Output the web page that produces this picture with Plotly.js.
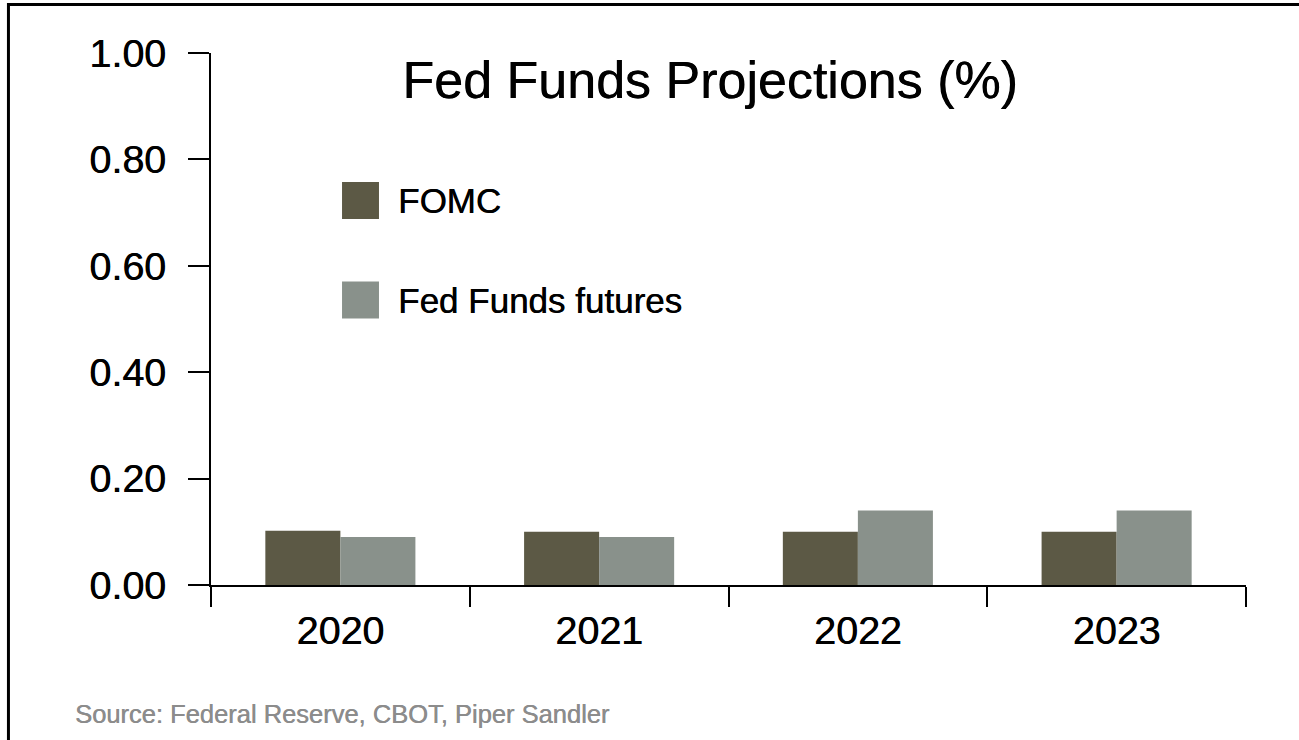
<!DOCTYPE html>
<html>
<head>
<meta charset="utf-8">
<script src="https://cdn.plot.ly/plotly-3.0.1.min.js"></script>
<style>
  html, body { margin: 0; padding: 0; background: #fff; }
  #chart { width: 1299px; height: 740px; }
</style>
</head>
<body>
<div id="chart"></div>
<script>
// ---- data ----
const years = ["2020", "2021", "2022", "2023"];
const fomcValues = [0.102, 0.10, 0.10, 0.10];
const futuresValues = [0.09, 0.09, 0.14, 0.14];
const seriesNames = ["FOMC", "Fed Funds futures"];
const yTickValues = [0, 0.2, 0.4, 0.6, 0.8, 1.0];
const yTickLabels = ["0.00", "0.20", "0.40", "0.60", "0.80", "1.00"];
const chartTitle = "Fed Funds Projections (%)";
const sourceText = "Source: Federal Reserve, CBOT, Piper Sandler";

// ---- style ----
const colors = ["#5c5945", "#89918b"];
const FONT = '"Liberation Sans", Arial, Helvetica, sans-serif';
const HEAVY = "0.5px 0 0 #000";

const traces = [
  { type: "bar", x: years, y: fomcValues, name: seriesNames[0],
    marker: { color: colors[0], line: { width: 0 } }, hoverinfo: "x+y+name" },
  { type: "bar", x: years, y: futuresValues, name: seriesNames[1],
    marker: { color: colors[1], line: { width: 0 } }, hoverinfo: "x+y+name" }
];

// legend built as swatches + labels (paper coordinates)
const legendRows = [0.7228, 0.5357];
const shapes = [];
const annotations = [];
seriesNames.forEach((nm, i) => {
  const yc = legendRows[i];
  const half = 0.0348;
  shapes.push({ type: "rect", xref: "paper", yref: "paper",
    x0: 0.1266, x1: 0.1623, y0: yc - half, y1: yc + half,
    fillcolor: colors[i], line: { width: 0 } });
  annotations.push({ xref: "paper", yref: "paper", x: 0.1787, y: yc,
    xanchor: "left", yanchor: "middle", showarrow: false, text: nm,
    font: { family: FONT, size: 35, color: "#000", shadow: HEAVY } });
});

// frame (top and left rules)
shapes.push({ type: "line", xref: "paper", yref: "paper",
  x0: -0.1957, x1: 1.06, y0: 1.0912, y1: 1.0912, line: { color: "#000", width: 3 } });
shapes.push({ type: "line", xref: "paper", yref: "paper",
  x0: -0.1957, x1: -0.1957, y0: 1.0938, y1: -0.31, line: { color: "#000", width: 3 } });

annotations.push({ xref: "paper", yref: "paper", x: -0.1334, y: -0.2425,
  xanchor: "left", yanchor: "middle", showarrow: false, text: sourceText,
  font: { family: FONT, size: 25.5, color: "#8c8c8c", shadow: "0.4px 0 0 #8c8c8c" } });

const layout = {
  width: 1299, height: 740,
  margin: { l: 211, r: 53, t: 53, b: 155, pad: 0 },
  paper_bgcolor: "#fff", plot_bgcolor: "#fff",
  showlegend: false,
  barmode: "group", bargap: 0.42, bargroupgap: 0,
  title: { text: chartTitle, x: 0.5466, xref: "container", xanchor: "center",
    y: 0.892, yref: "container", yanchor: "middle",
    font: { family: FONT, size: 52, color: "#000", shadow: HEAVY } },
  font: { family: FONT, color: "#000" },
  xaxis: {
    type: "category", range: [-0.5, 3.5],
    showline: true, linecolor: "#000", linewidth: 2,
    ticks: "outside", tickson: "boundaries", ticklen: 20, tickwidth: 2, tickcolor: "#000",
    ticklabelstandoff: 10,
    showgrid: false, zeroline: false,
    tickfont: { family: FONT, size: 39.5, color: "#000", shadow: HEAVY }
  },
  yaxis: {
    range: [0, 1], tickvals: yTickValues, ticktext: yTickLabels,
    showline: true, linecolor: "#000", linewidth: 2,
    ticks: "outside", ticklen: 21, tickwidth: 2, tickcolor: "#000",
    ticklabelstandoff: 14,
    showgrid: false, zeroline: false,
    tickfont: { family: FONT, size: 39.5, color: "#000", shadow: HEAVY }
  },
  shapes: shapes,
  annotations: annotations
};

Plotly.newPlot("chart", traces, layout, { displayModeBar: false, staticPlot: true });
</script>
</body>
</html>
